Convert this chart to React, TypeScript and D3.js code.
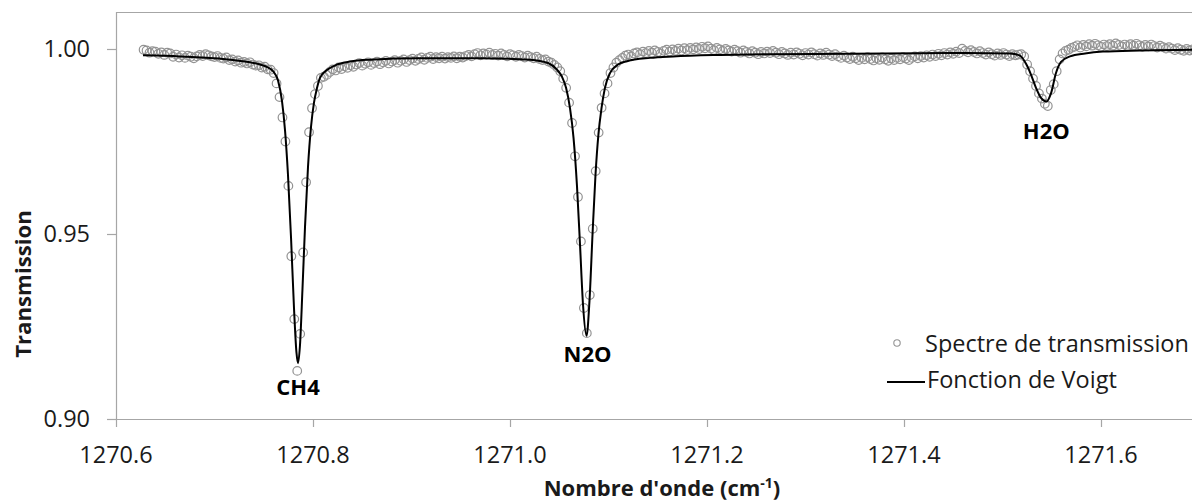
import React from "react";
import * as d3 from "d3";

// ---- data ----
const specStart = 1270.628; // first sample (cm-1)
const specStep = 0.003; // sampling step (cm-1)
const specY = [
  .9998,.9996,.9990,.9994,.9993,.9987,.9991,.9984,.9990,.9988,
  .9979,.9985,.9977,.9983,.9976,.9982,.9979,.9975,.9980,.9984,
  .9981,.9986,.9983,.9980,.9978,.9981,.9976,.9974,.9977,.9970,
  .9972,.9966,.9969,.9963,.9965,.9961,.9964,.9958,.9955,.9956,
  .9950,.9952,.9945,.9944,.9935,.9907,.9870,.9815,.9750,.9630,
  .9440,.9270,.9130,.9230,.9450,.9640,.9775,.9840,.9878,.9900,
  .9922,.9925,.9930,.9938,.9945,.9942,.9950,.9946,.9953,.9949,
  .9956,.9952,.9958,.9962,.9955,.9960,.9964,.9957,.9962,.9966,
  .9959,.9964,.9968,.9961,.9966,.9970,.9963,.9968,.9972,.9965,
  .9970,.9974,.9968,.9973,.9977,.9971,.9976,.9979,.9973,.9978,
  .9975,.9979,.9974,.9978,.9976,.9980,.9975,.9979,.9977,.9981,
  .9984,.9980,.9986,.9989,.9983,.9988,.9985,.9990,.9984,.9987,
  .9982,.9988,.9984,.9980,.9986,.9983,.9979,.9984,.9981,.9977,
  .9982,.9978,.9975,.9979,.9973,.9970,.9972,.9966,.9963,.9957,
  .9950,.9940,.9920,.9895,.9855,.9800,.9710,.9600,.9480,.9300,
  .9232,.9335,.9514,.9670,.9774,.9841,.9880,.9907,.9935,.9950,
  .9963,.9970,.9976,.9982,.9985,.9980,.9988,.9991,.9986,.9993,
  .9989,.9995,.9990,.9996,.9992,.9988,.9995,.9998,.9993,.9999,
  .9995,1.0001,.9996,1.0002,.9997,1.0003,.9999,1.0004,1.0000,1.0006,
  1.0002,1.0007,1.0001,.9997,1.0003,.9999,.9995,1.0000,.9996,.9993,
  .9998,.9994,.9990,.9996,.9992,.9988,.9994,.9990,.9986,.9992,
  .9988,.9993,.9989,.9995,.9990,.9986,.9992,.9988,.9984,.9990,
  .9985,.9991,.9987,.9983,.9989,.9985,.9991,.9986,.9982,.9988,
  .9984,.9990,.9985,.9981,.9986,.9980,.9976,.9982,.9977,.9973,
  .9979,.9975,.9970,.9976,.9972,.9978,.9973,.9969,.9975,.9971,
  .9977,.9972,.9968,.9974,.9970,.9976,.9972,.9978,.9974,.9970,
  .9976,.9980,.9975,.9981,.9977,.9983,.9979,.9985,.9981,.9987,
  .9983,.9989,.9985,.9991,.9987,.9993,.9989,1.0001,.9995,.9991,
  .9997,.9992,.9988,.9994,.9989,.9985,.9991,.9986,.9982,.9988,
  .9984,.9989,.9985,.9981,.9986,.9983,.9985,.9986,.9980,.9958,
  .9940,.9920,.9900,.9880,.9866,.9852,.9846,.9889,.9905,.9940,
  .9972,.9988,.9995,.9998,1.0003,1.0006,1.0010,1.0004,1.0011,1.0007,
  1.0013,1.0009,1.0014,1.0010,1.0006,1.0012,1.0008,1.0013,1.0009,1.0015,
  1.0011,1.0007,1.0012,1.0008,1.0013,1.0009,1.0014,1.0010,1.0006,1.0011,
  1.0007,1.0012,1.0008,1.0004,1.0009,1.0005,1.0001,1.0005,1.0001,.9997,
  1.0002,.9998,.9995,1.0000,.9996,.9999,.9997,.9998,
];

const voigtX = [
  1270.6274,1270.6650,1270.7056,1270.7310,1270.7462,1270.7543,1270.7594,
  1270.7645,1270.7685,1270.7716,1270.7746,1270.7777,1270.7807,1270.7832,1270.7848,
  1270.7868,1270.7893,1270.7919,1270.7949,1270.7980,1270.8010,1270.8041,1270.8071,
  1270.8152,1270.8244,1270.8376,1270.8579,1270.9086,1270.9695,
  1271.0203,1271.0386,1271.0477,1271.0528,1271.0569,1271.0609,1271.0645,1271.0680,
  1271.0711,1271.0741,1271.0777,1271.0807,1271.0838,1271.0868,1271.0898,1271.0929,
  1271.0964,1271.1015,1271.1096,1271.1188,
  1271.1421,1271.1655,1271.2132,1271.2640,1271.3452,1271.4467,
  1271.5076,1271.5178,1271.5239,1271.5289,1271.5340,1271.5391,1271.5447,1271.5492,
  1271.5543,1271.5594,1271.5685,1271.5838,
  1271.6020,1271.6396,1271.6995,
];
const voigtY = [
  0.9983,0.9980,0.9974,0.9966,0.9958,0.9950,0.9940,
  0.9915,0.9860,0.978,0.966,0.949,0.930,0.918,0.9151,
  0.920,0.935,0.952,0.968,0.979,0.9855,0.9895,0.9922,
  0.9945,0.9958,0.9966,0.9971,0.9975,0.9975,
  0.9971,0.9962,0.9944,0.9925,0.9895,0.984,0.976,0.963,
  0.947,0.931,0.9225,0.932,0.950,0.966,0.977,0.984,
  0.9895,0.9935,0.9958,0.9967,
  0.9976,0.9980,0.9984,0.9986,0.9987,0.9989,
  0.9988,0.9982,0.996,0.9931,0.9895,0.9868,0.9858,0.9880,
  0.9935,0.9965,0.9980,0.9988,
  0.9993,0.9996,0.9998,
];

const xTicks = [1270.6, 1270.8, 1271.0, 1271.2, 1271.4, 1271.6];
const yTicks = [0.9, 0.95, 1.0];
const peakNames = ["CH4", "N2O", "H2O"];
const peakPos = [1270.7848, 1271.0787, 1271.5445];
const peakLabelY = [0.9065, 0.9153, 0.9756];
const legendLabels = ["Spectre de transmission", "Fonction de Voigt"];

// ---- layout ----
const W = 1192;
const H = 504;
const left = 116;
const top = 12;
const bottom = 419;
const FONT = "'Open Sans', 'Noto Sans', sans-serif";
const axisColor = "#a6a6a6";
const textColor = "#1a1a1a";

export default function App() {
  const x = d3.scaleLinear().domain([1270.6, 1271.7]).range([left, left + 1083.5]);
  const y = d3.scaleLinear().domain([0.9, 1.01]).range([bottom, top]);

  const spec = specY.map((v, i) => ({ x: specStart + i * specStep, y: v }));
  const voigt = voigtX.map((v, i) => ({ x: v, y: voigtY[i] }));
  const line = d3
    .line<{ x: number; y: number }>()
    .x((d) => x(d.x))
    .y((d) => y(d.y))
    .curve(d3.curveMonotoneX);

  return (
    <svg
      width={W}
      height={H}
      style={{ position: "absolute", left: 0, top: 0, background: "#fff" }}
      fontFamily={FONT}
    >
      <rect x={0} y={0} width={W} height={H} fill="#fff" />
      {/* plot frame */}
      <line x1={left + 0.5} y1={top} x2={left + 0.5} y2={bottom} stroke={axisColor} strokeWidth={1.2} />
      <line x1={left} y1={top + 0.5} x2={W} y2={top + 0.5} stroke={axisColor} strokeWidth={1.2} />
      <line x1={left} y1={bottom + 0.5} x2={W} y2={bottom + 0.5} stroke={axisColor} strokeWidth={1.2} />

      {/* y ticks */}
      {yTicks.map((t) => (
        <g key={"y" + t}>
          <line x1={left - 9} x2={left} y1={Math.round(y(t)) + 0.5} y2={Math.round(y(t)) + 0.5} stroke={axisColor} strokeWidth={1.2} />
          <text x={90} y={y(t) + 8} textAnchor="end" fontSize={23.5} fill={textColor}>
            {t.toFixed(2)}
          </text>
        </g>
      ))}

      {/* x ticks */}
      {xTicks.map((t) => (
        <g key={"x" + t}>
          <line x1={Math.round(x(t)) + 0.5} x2={Math.round(x(t)) + 0.5} y1={bottom} y2={bottom + 8} stroke={axisColor} strokeWidth={1.2} />
          <text x={x(t)} y={463} textAnchor="middle" fontSize={23.5} fill={textColor}>
            {t.toFixed(1)}
          </text>
        </g>
      ))}

      {/* axis titles */}
      <text
        transform="translate(31,284) rotate(-90)"
        textAnchor="middle"
        fontSize={22.2}
        fontWeight="bold"
        fill={textColor}
      >
        Transmission
      </text>
      <text x={662} y={496} textAnchor="middle" fontSize={22} fontWeight="bold" fill={textColor}>
        Nombre d'onde (cm
        <tspan fontSize={14} dy={-8}>-1</tspan>
        <tspan dy={8}>)</tspan>
      </text>

      {/* spectrum points */}
      <g fill="none" stroke="#939393" strokeWidth={1.2}>
        {spec.map((d, i) => (
          <circle key={i} cx={x(d.x)} cy={y(d.y)} r={4.3} />
        ))}
      </g>

      {/* Voigt fit */}
      <path d={line(voigt) || ""} fill="none" stroke="#000" strokeWidth={2} />

      {/* peak labels */}
      {peakNames.map((n, i) => (
        <text
          key={n}
          x={x(peakPos[i])}
          y={y(peakLabelY[i])}
          textAnchor="middle"
          fontSize={22}
          fontWeight="bold"
          fill="#000"
        >
          {n}
        </text>
      ))}

      {/* legend */}
      <circle cx={897} cy={343} r={3.2} fill="none" stroke="#939393" strokeWidth={1.1} />
      <text x={925} y={352} fontSize={23.5} fill={textColor}>
        {legendLabels[0]}
      </text>
      <line x1={887} x2={925} y1={382} y2={382} stroke="#000" strokeWidth={2} />
      <text x={927} y={388} fontSize={23.5} fill={textColor}>
        {legendLabels[1]}
      </text>
    </svg>
  );
}
